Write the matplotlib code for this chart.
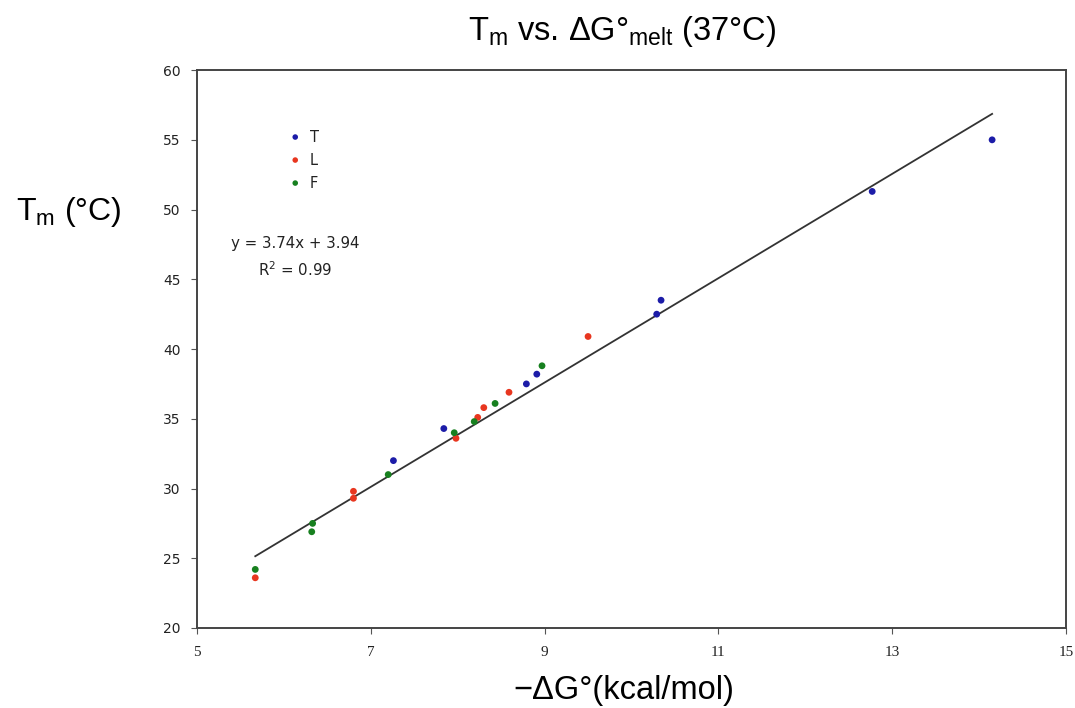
import matplotlib
matplotlib.use("Agg")
import matplotlib.pyplot as plt
import numpy as np

# Melting temperature vs. free energy of melting, three series
t_dg = [7.26, 7.84, 8.79, 8.91, 10.29, 10.34, 12.77, 14.15]
t_tm = [32.0, 34.3, 37.5, 38.2, 42.5, 43.5, 51.3, 55.0]

l_dg = [5.67, 6.80, 6.80, 7.98, 8.23, 8.30, 8.59, 9.50]
l_tm = [23.6, 29.8, 29.3, 33.6, 35.1, 35.8, 36.9, 40.9]

f_dg = [5.67, 6.33, 6.32, 7.20, 7.96, 8.19, 8.43, 8.97]
f_tm = [24.2, 27.5, 26.9, 31.0, 34.0, 34.8, 36.1, 38.8]

series_names = ["T", "L", "F"]
series_colors = ["#1c1ca8", "#e8361f", "#17801f"]

fit_slope = 3.74
fit_intercept = 3.94
fit_r2 = 0.99

x_ticks = [5, 7, 9, 11, 13, 15]
y_ticks = [20, 25, 30, 35, 40, 45, 50, 55, 60]

fig = plt.figure(figsize=(10.75, 7.08), dpi=100)
ax = fig.add_axes([0.1833, 0.113, 0.8083, 0.788])

groups = [(t_dg, t_tm), (l_dg, l_tm), (f_dg, f_tm)]
for (xs, ys), c in zip(groups, series_colors):
    ax.scatter(xs, ys, s=24, color=c, edgecolors="none", zorder=3)

all_x = np.array(t_dg + l_dg + f_dg)
xf = np.array([all_x.min(), all_x.max()])
ax.plot(xf, fit_slope * xf + fit_intercept, color="#333333", lw=1.3, zorder=2)

ax.set_xlim(5, 15)
ax.set_ylim(20, 60)
ax.set_xticks(x_ticks)
ax.set_yticks(y_ticks)
ax.set_xticklabels([str(v) for v in x_ticks], family="Liberation Serif", fontsize=11, color="#222222")
ax.set_yticklabels([str(v) for v in y_ticks], family="DejaVu Sans", fontsize=10, color="#222222")
ax.tick_params(axis="both", direction="out", length=4, width=0.8, color="#555555")
ax.tick_params(axis="x", pad=9)
ax.tick_params(axis="y", pad=8)
for sp in ax.spines.values():
    sp.set_color("#444444")
    sp.set_linewidth(1.4)

# Legend drawn as marker + label rows
for i, (name, c) in enumerate(zip(series_names, series_colors)):
    yy = 55.2 - i * 1.65
    ax.scatter([6.13], [yy], s=16, color=c, edgecolors="none", clip_on=False)
    ax.text(6.3, yy, name, fontsize=10.5, family="DejaVu Sans", va="center", ha="left", color="#222222")

ax.text(6.13, 47.6, f"y = {fit_slope:.2f}x + {fit_intercept:.2f}", fontsize=10.8,
        family="DejaVu Sans", ha="center", va="center", color="#222222")
ax.text(6.13, 45.7, f"R$^2$ = {fit_r2:.2f}", fontsize=10.8,
        family="DejaVu Sans", ha="center", va="center", color="#222222")

fig.text(0.579, 0.955, r"T$_\mathregular{m}$ vs. ΔG°$_\mathregular{melt}$ (37°C)",
         fontsize=23.5, family="Liberation Sans", ha="center", va="center")
fig.text(0.064, 0.700, r"T$_\mathregular{m}$ (°C)", fontsize=23,
         family="Liberation Sans", ha="center", va="center")
fig.text(0.58, 0.025, "−ΔG°(kcal/mol)", fontsize=23.5,
         family="Liberation Sans", ha="center", va="center")

fig.savefig("out.png", dpi=100, facecolor="white")
